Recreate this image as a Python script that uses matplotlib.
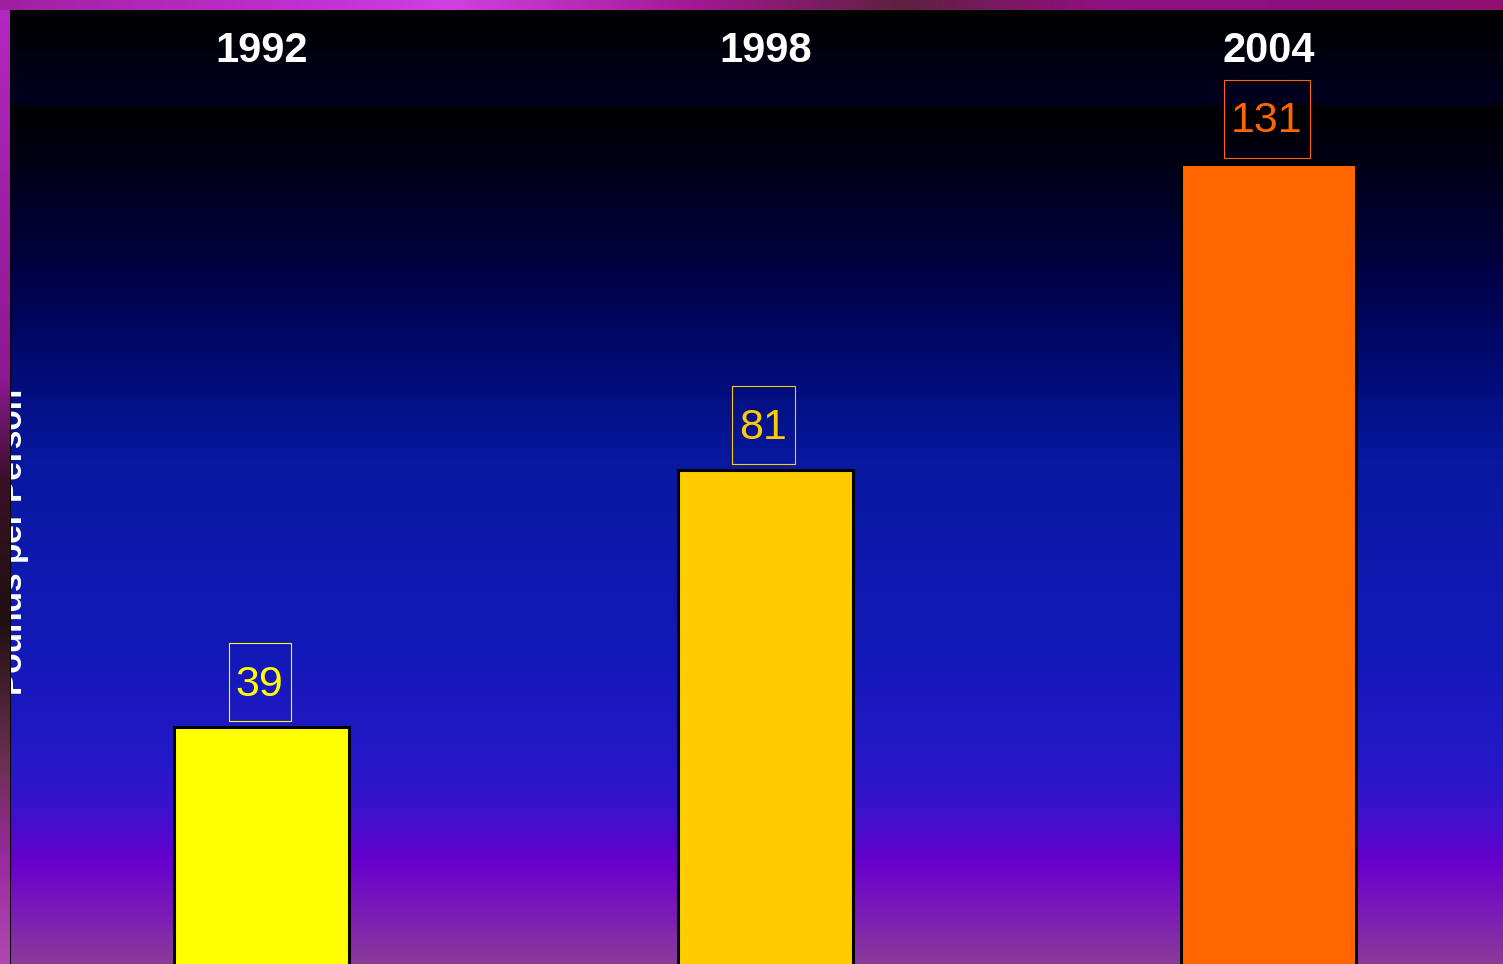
import numpy as np
import matplotlib
matplotlib.use('Agg')
import matplotlib.pyplot as plt
from matplotlib.path import Path
from matplotlib.colors import to_rgb

# data
years = ['1992', '1998', '2004']
values = [39, 81, 131]
bar_colors = ['#ffff00', '#ffcc00', '#ff6600']
y_label = 'Pounds per Person'

W, H = 1503, 964
fig = plt.figure(figsize=(W / 100, H / 100), dpi=100)
fig.patch.set_facecolor('#a0209c')

# chart background gradient
bg = fig.add_axes([10 / W, 0, 1 - 10 / W, 1 - 10 / H])
bg.axis('off')
gy = [10, 104, 105, 170, 260, 360, 460, 560, 660, 760, 810, 860, 910, 964]
gc = ['#000000', '#000020', '#000000', '#000018', '#000040', '#000a70', '#0818a0',
      '#0e1aae', '#1419b9', '#2418c8', '#3a12cc', '#6600cc', '#7a1ab8', '#8a3c98']
rgb = np.array([to_rgb(c) for c in gc])
rows = np.arange(10, H)
grad = np.stack([np.interp(rows, gy, rgb[:, k]) for k in range(3)], axis=1)
bg.imshow(grad[:, None, :], extent=[0, 1, 0, 1], aspect='auto')
bg.text(0.0125, 0.442, y_label, rotation=90, ha='right', va='center',
        color='white', fontsize=24, fontweight='bold', family='Liberation Sans')

# main axes
ax = fig.add_axes([10 / W, -2 / H, 1 - 10 / W, 956 / H])
ax.set_facecolor('none')
x = np.arange(len(years))
ax.bar(x, values, width=0.348, color=bar_colors, edgecolor='black', linewidth=2.2)
ax.set_xlim(-0.5, 2.465)
ax.set_ylim(0, 156.15)
ax.set_xticks([])
ax.set_yticks([])
for s in ['top', 'right', 'bottom']:
    ax.spines[s].set_visible(False)
ax.spines['left'].set_color('black')
ax.spines['left'].set_linewidth(1.5)


def label_box(x0, y0, w, h, mutation_size):
    # more vertical padding than horizontal, a bit more above the text
    px = 0.17 * mutation_size
    pb = 0.38 * mutation_size
    pt = 0.50 * mutation_size
    return Path([(x0 - px, y0 - pb), (x0 + w + px, y0 - pb),
                 (x0 + w + px, y0 + h + pt), (x0 - px, y0 + h + pt),
                 (x0 - px, y0 - pb)], closed=True)


for i, v in enumerate(values):
    ax.annotate(str(v), (x[i], v), xytext=(-2, 42.5), textcoords='offset pixels',
                ha='center', va='center', color=bar_colors[i], fontsize=31,
                family='Liberation Sans',
                bbox=dict(boxstyle=label_box, fc='none', ec=bar_colors[i], lw=0.8))
    ax.text(x[i], 0.957, years[i], transform=ax.get_xaxis_transform(),
            ha='center', va='center', color='white', fontsize=30,
            fontweight='bold', family='Liberation Sans')

# textured picture frame on top (left and top strips), rough shading
fy = [0, 380, 480, 620, 760, 860, 964]
fc = ['#b428c0', '#8c1890', '#3a1028', '#201010', '#6a3050', '#9a2aa0', '#b04ab0']
rgb = np.array([to_rgb(c) for c in fc])
rows = np.arange(H)
col = np.stack([np.interp(rows, fy, rgb[:, k]) for k in range(3)], axis=1)
left = fig.add_axes([0, 0, 10 / W, 1])
left.axis('off')
left.imshow(col[:, None, :], extent=[0, 1, 0, 1], aspect='auto')
tx = [0, 300, 450, 700, 900, 1100, 1300, 1503]
tc = ['#a020a0', '#c030d0', '#d040e0', '#a01890', '#602040', '#901080', '#8a1080', '#901070']
rgb = np.array([to_rgb(c) for c in tc])
cols = np.arange(W)
row = np.stack([np.interp(cols, tx, rgb[:, k]) for k in range(3)], axis=1)
top = fig.add_axes([0, 1 - 10 / H, 1, 10 / H])
top.axis('off')
top.imshow(row[None, :, :], extent=[0, 1, 0, 1], aspect='auto')

fig.savefig('out.png', dpi=100)
